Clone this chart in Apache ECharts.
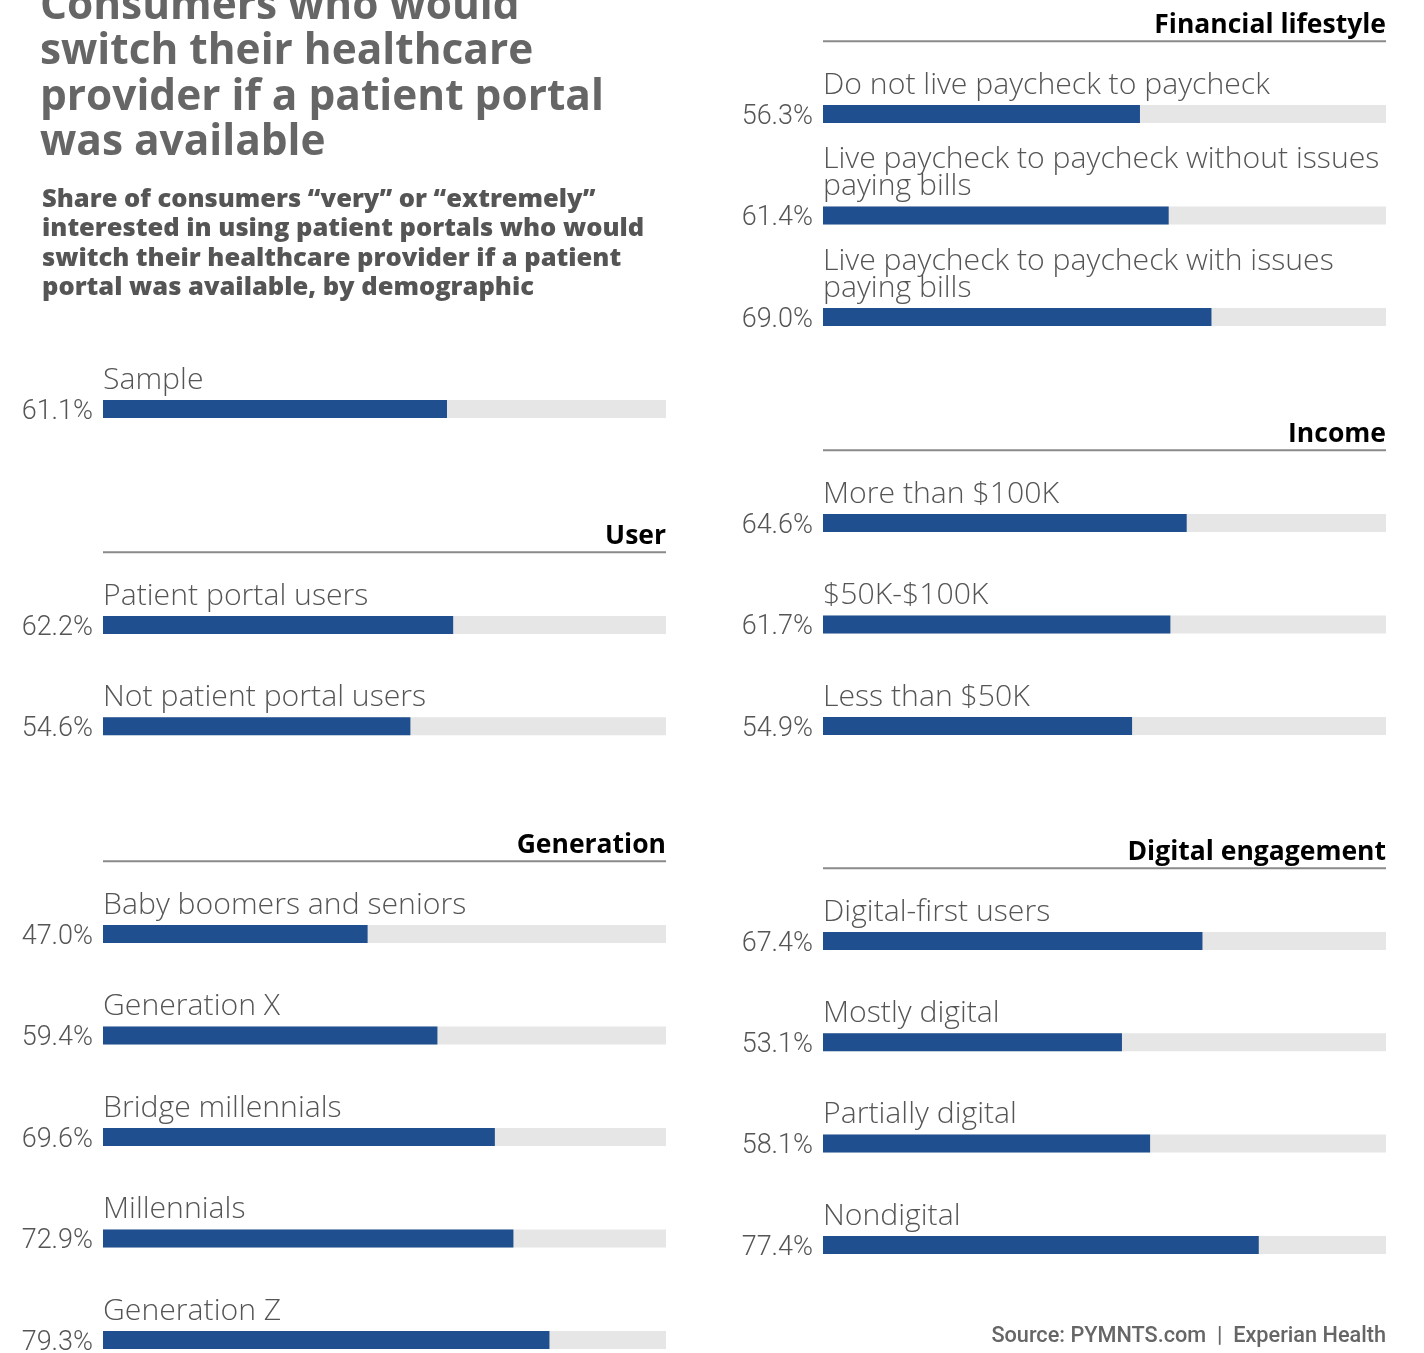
<!DOCTYPE html>
<html>
<head>
<meta charset="utf-8">
<script src="https://cdn.jsdelivr.net/npm/echarts@6/dist/echarts.min.js"></script>
<style>
html,body{margin:0;padding:0;background:#fff;}
#chart{width:1424px;height:1353px;}
</style>
</head>
<body>
<div id="chart"></div>
<script>
// ---- DATA ----
const sampleNames = ['Sample'];
const sampleValues = [61.1];

const userNames = ['Patient portal users', 'Not patient portal users'];
const userValues = [62.2, 54.6];

const generationNames = ['Baby boomers and seniors', 'Generation X', 'Bridge millennials', 'Millennials', 'Generation Z'];
const generationValues = [47.0, 59.4, 69.6, 72.9, 79.3];

const financialNames = ['Do not live paycheck to paycheck', 'Live paycheck to paycheck without issues\npaying bills', 'Live paycheck to paycheck with issues\npaying bills'];
const financialValues = [56.3, 61.4, 69.0];

const incomeNames = ['More than $100K', '$50K-$100K', 'Less than $50K'];
const incomeValues = [64.6, 61.7, 54.9];

const digitalNames = ['Digital-first users', 'Mostly digital', 'Partially digital', 'Nondigital'];
const digitalValues = [67.4, 53.1, 58.1, 77.4];

const titleText = 'Consumers who would\nswitch their healthcare\nprovider if a patient portal\nwas available';
const subtitleText = 'Share of consumers \u201cvery\u201d or \u201cextremely\u201d\ninterested in using patient portals who would\nswitch their healthcare provider if a patient\nportal was available, by demographic';
const sourceText = 'Source: PYMNTS.com  |  Experian Health';

// ---- LAYOUT ----
const BAR_W = 563;
const panels = [
  {names: sampleNames, values: sampleValues, header: null, left: 103, top: 358.35, h: 101.3},
  {names: userNames, values: userValues, header: 'User', left: 103, top: 574.35, h: 202.6},
  {names: generationNames, values: generationValues, header: 'Generation', left: 103, top: 883.25, h: 507.5},
  {names: financialNames, values: financialValues, header: 'Financial lifestyle', left: 823, top: 63.25, h: 304.5},
  {names: incomeNames, values: incomeValues, header: 'Income', left: 823, top: 472.25, h: 304.5},
  {names: digitalNames, values: digitalValues, header: 'Digital engagement', left: 823, top: 890.3, h: 405.3}
];

const grids = [], xAxes = [], yAxes = [], series = [];
const graphics = [];

graphics.push({
  type: 'text', left: 40, top: -16,
  style: {text: titleText, font: '700 42.4px "Open Sans"', lineHeight: 45.5, fill: '#666666'}
});
graphics.push({
  type: 'text', left: 42, top: 185,
  style: {text: subtitleText, font: '800 25.5px "Open Sans"', lineHeight: 29.3, fill: '#555555'}
});
graphics.push({
  type: 'text', right: 38, top: 1326,
  style: {text: sourceText, font: '500 21.7px Roboto', fill: '#666666', align: 'right'}
});

panels.forEach((p, i) => {
  grids.push({left: p.left, top: p.top, width: BAR_W, height: p.h, outerBoundsMode: 'none', containLabel: false});
  xAxes.push({type: 'value', gridIndex: i, min: 0, max: 100, show: false});
  yAxes.push({
    type: 'category', gridIndex: i, data: p.names, inverse: true,
    axisLine: {show: false}, axisTick: {show: false}, splitLine: {show: false},
    axisLabel: {show: false}
  });
  // main bar with value label on its left
  series.push({
    type: 'bar', xAxisIndex: i, yAxisIndex: i, data: p.values, barWidth: 18, barGap: '-100%',
    showBackground: true, backgroundStyle: {color: '#e6e6e6'},
    itemStyle: {color: '#1f4f8f'},
    silent: true, animation: false,
    label: {
      show: true, position: 'left', distance: 10, offset: [0, 3],
      formatter: (prm) => prm.value.toFixed(1) + '%',
      fontFamily: 'Roboto', fontWeight: 300, fontSize: 27, color: '#555555'
    }
  });
  // same data, transparent, carrying the category name above the bar
  series.push({
    type: 'bar', xAxisIndex: i, yAxisIndex: i, data: p.values, barWidth: 18, barGap: '-100%',
    itemStyle: {color: 'rgba(0,0,0,0)'},
    silent: true, animation: false,
    label: {
      show: true, position: [0, -6.5], align: 'left', verticalAlign: 'bottom',
      formatter: (prm) => prm.name,
      fontFamily: '"Open Sans"', fontWeight: 300, fontSize: 30.2, lineHeight: 27, color: '#555555'
    }
  });
  if (p.header) {
    const lineY = p.top - 22;
    graphics.push({
      type: 'line', shape: {x1: p.left, y1: lineY, x2: p.left + BAR_W, y2: lineY},
      style: {stroke: '#8a8a8a', lineWidth: 2}
    });
    graphics.push({
      type: 'text', x: p.left + BAR_W, y: lineY - 16,
      style: {text: p.header, font: '700 26.5px "Open Sans"', fill: '#000000', align: 'right', verticalAlign: 'middle'}
    });
  }
});

const chart = echarts.init(document.getElementById('chart'), null, {renderer: 'canvas'});
chart.setOption({
  backgroundColor: '#ffffff',
  animation: false,
  grid: grids, xAxis: xAxes, yAxis: yAxes, series: series,
  graphic: graphics
});
</script>
</body>
</html>
